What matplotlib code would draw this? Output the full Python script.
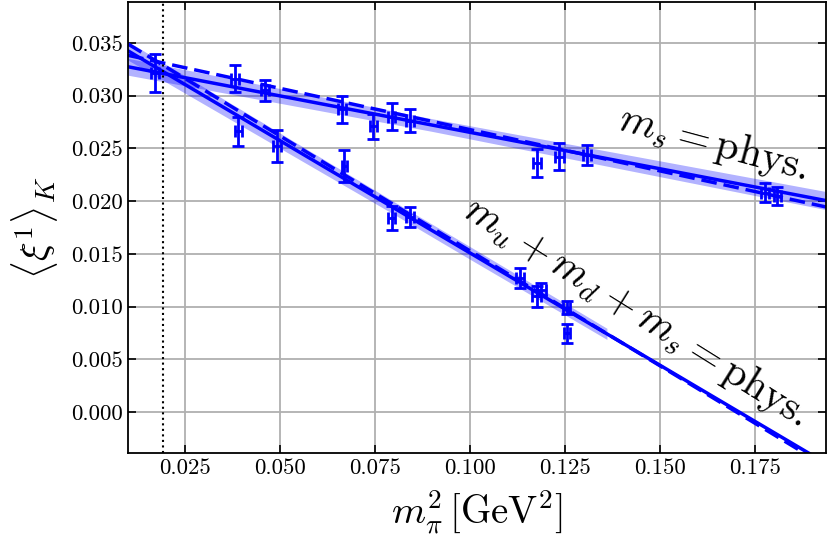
import numpy as np
import matplotlib
matplotlib.use("Agg")
import matplotlib.pyplot as plt

plt.rcParams['font.family'] = 'serif'
plt.rcParams['font.serif'] = ['cmr10', 'DejaVu Serif']
plt.rcParams['mathtext.fontset'] = 'cm'
plt.rcParams['axes.formatter.use_mathtext'] = True
plt.rcParams['axes.unicode_minus'] = False

# ---- data ----
# ms = phys. trajectory
ms_x = [0.0172, 0.0382, 0.0461, 0.0663, 0.0746, 0.0794, 0.0842, 0.1177, 0.1235, 0.1307, 0.1775, 0.1808]
ms_y = [0.0321, 0.0316, 0.0305, 0.0287, 0.0271, 0.0280, 0.0276, 0.0236, 0.0242, 0.0244, 0.0208, 0.0205]
ms_yerr = [0.0018, 0.0013, 0.0010, 0.0013, 0.0012, 0.0013, 0.0011, 0.0013, 0.0013, 0.00095, 0.00087, 0.00087]
ms_xerr = [0.0010, 0.0010, 0.0010, 0.0010, 0.0010, 0.0010, 0.0010, 0.0010, 0.0012, 0.0010, 0.0010, 0.0010]

# mu + md + ms = phys. trajectory
sym_x = [0.0391, 0.0492, 0.0670, 0.0794, 0.0842, 0.1131, 0.1175, 0.1188, 0.1254, 0.1254]
sym_y = [0.0266, 0.0252, 0.0233, 0.0184, 0.0185, 0.0127, 0.0110, 0.0116, 0.0099, 0.0075]
sym_yerr = [0.0014, 0.0015, 0.0015, 0.0011, 0.00095, 0.00095, 0.0010, 0.0006, 0.0006, 0.0009]
sym_xerr = [0.0010, 0.0010, 0.0006, 0.0010, 0.0010, 0.0010, 0.0012, 0.0012, 0.0010, 0.0008]

# fit lines (value at physical point, slope)
x_phys = 0.0192
ms_fit = (0.0321, -0.0691)
ms_fit_dash = (0.0331, -0.0783)
ms_band = 0.0006
sym_fit = (0.0323, -0.213)
sym_fit_dash = (0.0329, -0.218)
sym_band = 0.0006

xmin, xmax = 0.0101, 0.1936
ymin, ymax = -0.0039, 0.0389

fig = plt.figure(figsize=(8.28, 5.41), dpi=100)
ax = fig.add_axes([0.1546, 0.162, 0.843, 0.835])

blue = '#0000ff'
xx = np.linspace(xmin, xmax, 200)
xs = np.linspace(xmin, 0.136, 200)

# bands
y_ms = ms_fit[0] + ms_fit[1] * (xx - x_phys)
hw_ms = ms_band + 0.0025 * np.abs(xx - 0.09)
ax.fill_between(xx, y_ms - hw_ms, y_ms + hw_ms, color=blue, alpha=0.3, lw=0)
y_sym_s = sym_fit[0] + sym_fit[1] * (xs - x_phys)
hw_sym = sym_band + 0.004 * (0.08 - xs).clip(0) - 0.002 * (xs - 0.10).clip(0)
ax.fill_between(xs, y_sym_s - hw_sym, y_sym_s + hw_sym, color=blue, alpha=0.3, lw=0)

# lines
dash = (0, (4.5, 2))
ax.plot(xx, y_ms, color=blue, lw=2.5)
ax.plot(xx, ms_fit_dash[0] + ms_fit_dash[1] * (xx - x_phys), color=blue, lw=2.5, ls=dash)
ax.plot(xx, sym_fit[0] + sym_fit[1] * (xx - x_phys), color=blue, lw=2.5)
ax.plot(xx, sym_fit_dash[0] + sym_fit_dash[1] * (xx - x_phys), color=blue, lw=2.5, ls=dash)

# data
ax.errorbar(ms_x, ms_y, yerr=ms_yerr, xerr=ms_xerr, fmt='s', ms=2, color=blue,
            elinewidth=2, capsize=4, capthick=2)
ax.errorbar(sym_x, sym_y, yerr=sym_yerr, xerr=sym_xerr, fmt='s', ms=2, color=blue,
            elinewidth=2, capsize=4, capthick=2)

ax.axvline(x_phys, color='black', ls=':', lw=1.5)

ax.set_xlim(xmin, xmax)
ax.set_ylim(ymin, ymax)
ax.set_xticks([0.025, 0.050, 0.075, 0.100, 0.125, 0.150, 0.175])
ax.set_xticklabels(['0.025', '0.050', '0.075', '0.100', '0.125', '0.150', '0.175'])
ax.set_yticks([0.000, 0.005, 0.010, 0.015, 0.020, 0.025, 0.030, 0.035])
ax.set_yticklabels(['0.000', '0.005', '0.010', '0.015', '0.020', '0.025', '0.030', '0.035'])
ax.tick_params(direction='in', top=True, right=True, labelsize=16.5, length=6, width=1.2)
ax.grid(True, color='#b0b0b0', lw=1.3)
ax.set_axisbelow(True)
for s in ax.spines.values():
    s.set_linewidth(1.3)

ax.set_xlabel(r'$m_\pi^2\,[\mathrm{GeV}^2]$', fontsize=28, labelpad=8)
ax.set_ylabel(r'$\langle \xi^1 \rangle_K$', fontsize=28, labelpad=8)

ax.text(0.1640, 0.0254, r'$m_s = \mathrm{phys.}$', fontsize=30, rotation=-15,
        ha='center', va='center', rotation_mode='anchor')
ax.text(0.1437, 0.0095, r'$m_u + m_d + m_s = \mathrm{phys.}$', fontsize=30, rotation=-32,
        ha='center', va='center', rotation_mode='anchor')

fig.savefig('out.png', dpi=100)
